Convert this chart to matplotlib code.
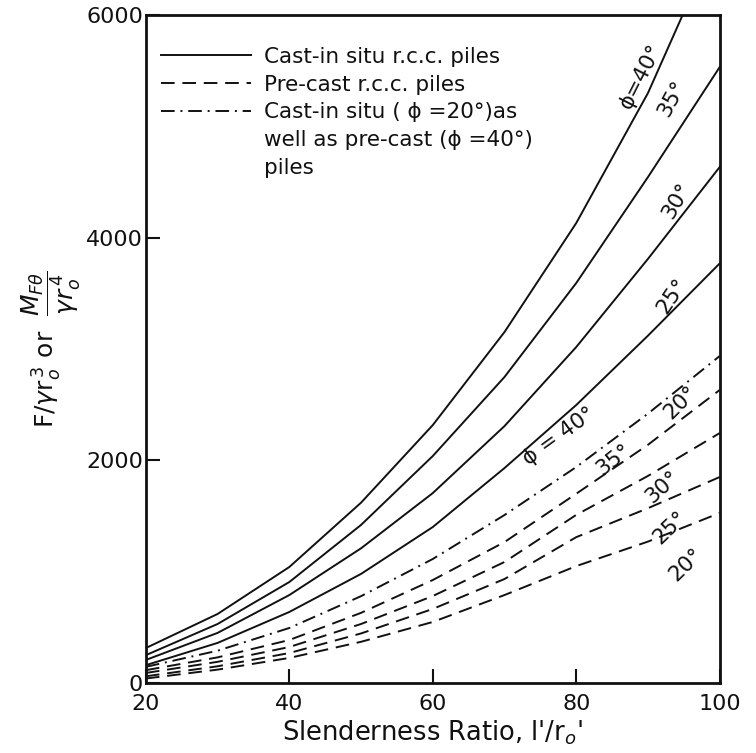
#!/usr/bin/env python3
"""Design chart: F/(gamma r0^3) or M/(gamma r0^4) against slenderness ratio."""

import matplotlib
matplotlib.use('Agg')
import matplotlib.pyplot as plt
from matplotlib.lines import Line2D

# slenderness ratio l'/r0'
slenderness = [20, 30, 40, 50, 60, 70, 80, 90, 100]

# cast-in situ r.c.c. piles (solid)
cast_40 = [314, 620, 1042, 1620, 2317, 3153, 4132, 5300, 6750]
cast_35 = [250, 530, 907, 1420, 2039, 2749, 3593, 4545, 5533]
cast_30 = [207, 450, 790, 1210, 1706, 2308, 3018, 3810, 4635]
cast_25 = [160, 360, 638, 980, 1401, 1931, 2497, 3120, 3769]

# cast-in situ phi=20 == pre-cast phi=40 (dash-dot)
shared_20_40 = [145, 290, 494, 780, 1114, 1509, 1940, 2420, 2937]

# pre-cast r.c.c. piles (dashed)
pre_35 = [115, 230, 386, 630, 925, 1266, 1700, 2140, 2632]
pre_30 = [90, 190, 323, 530, 781, 1087, 1510, 1860, 2245]
pre_25 = [60, 150, 269, 445, 665, 934, 1310, 1570, 1850]
pre_20 = [40, 120, 225, 370, 548, 790, 1050, 1270, 1527]

# curve labels: text, x, y, rotation
curve_labels = [
    ('ϕ=40°', 89.0, 5450, 63),
    ('35°', 93.4, 5250, 62),
    ('30°', 94.0, 4330, 60),
    ('25°', 93.4, 3480, 56),
    ('20°', 94.6, 2520, 45),
    ('ϕ = 40°', 77.6, 2220, 36),
    ('35°', 85.2, 2010, 38),
    ('30°', 92.0, 1760, 42),
    ('25°', 93.0, 1400, 44),
    ('20°', 95.3, 1060, 44),
]

x_ticks = [20, 40, 60, 80, 100]
y_ticks = [0, 2000, 4000, 6000]

INK = '#111111'
DASH = (7, 4)
DASHDOT = (7, 3, 1, 3)

plt.rcParams['font.family'] = ['DejaVu Sans']
plt.rcParams['mathtext.fontset'] = 'dejavusans'

fig = plt.figure(figsize=(7.56, 7.53), dpi=100)
ax = fig.add_axes([0.193, 0.093, 0.759, 0.887])

for ys in (cast_40, cast_35, cast_30, cast_25):
    ax.plot(slenderness, ys, color=INK, lw=1.4, solid_joinstyle='round')

ax.plot(slenderness, shared_20_40, color=INK, lw=1.4, dashes=DASHDOT)

for ys in (pre_35, pre_30, pre_25, pre_20):
    ax.plot(slenderness, ys, color=INK, lw=1.4, dashes=DASH)

for text, x, y, rot in curve_labels:
    ax.text(x, y, text, rotation=rot, fontsize=15.5, color=INK,
            ha='center', va='center', rotation_mode='anchor')

ax.set_xlim(20, 100)
ax.set_ylim(0, 6000)
ax.set_xticks(x_ticks)
ax.set_yticks(y_ticks)
ax.tick_params(direction='in', length=10, width=1.5, labelsize=16,
               colors=INK)
ax.tick_params(axis='x', pad=8)
ax.tick_params(axis='y', pad=2)
for spine in ax.spines.values():
    spine.set_linewidth(2)
    spine.set_color(INK)

ax.set_xlabel("Slenderness Ratio, l'/r$_o$'", fontsize=18.5, color=INK,
              labelpad=3)
ax.set_ylabel(r'F/$\gamma$r$_o^{\,3}$ or  $\dfrac{M_{F\theta}}{\gamma r_o^{\,4}}$',
              fontsize=18, color=INK, labelpad=2)

# legend: the three-line entry is split so its handle sits on the first line
blank = Line2D([], [], color='none')
handles = [
    Line2D([], [], color=INK, lw=1.4),
    Line2D([], [], color=INK, lw=1.4, dashes=DASH),
    Line2D([], [], color=INK, lw=1.4, dashes=DASHDOT),
    blank,
    blank,
]
labels = [
    'Cast-in situ r.c.c. piles',
    'Pre-cast r.c.c. piles',
    'Cast-in situ ( ϕ =20°)as',
    'well as pre-cast (ϕ =40°)',
    'piles',
]
ax.legend(handles, labels, loc='upper left', frameon=False, fontsize=15.5,
          handlelength=4.2, handletextpad=0.6, labelspacing=0.36,
          borderaxespad=0.3, bbox_to_anchor=(0.0, 0.975), labelcolor=INK)

fig.savefig('out.png', dpi=100)
